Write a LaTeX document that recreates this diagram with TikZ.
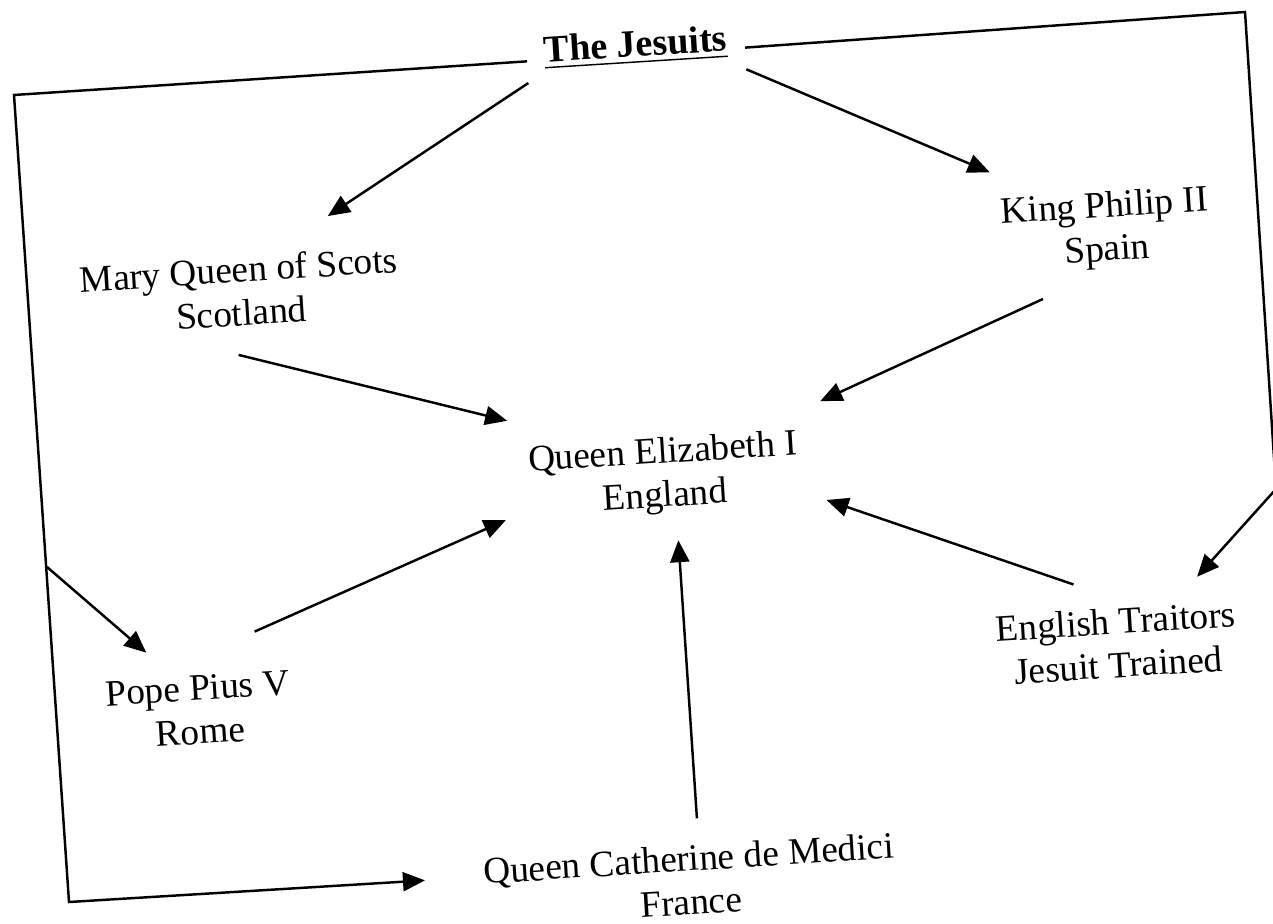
\documentclass[tikz,border=0pt]{standalone}
\usepackage{fontspec}
\setmainfont{Liberation Serif}
\usetikzlibrary{arrows.meta}

\begin{document}
\begin{tikzpicture}[x=0.1mm, y=-0.1mm, every node/.style={
    align=center, rotate=3.6, inner sep=2.5mm,
    font=\fontsize{10.6}{12.4}\selectfont},
    -{Triangle[length=2.2mm,width=1.9mm]}, line width=0.7pt]
    \useasboundingbox (0,0) rectangle (1273,924);

    \node[inner sep=0pt, minimum width=21.6mm, text height=2.25mm,
      text depth=1.85mm] (jesuits) at (636,54.5)
      {\resizebox{18.3mm}{!}{\underline{\bfseries The Jesuits}}};
    \node (mary) at (240,291) {Mary Queen of Scots\\Scotland};
    \node (philip) at (1106,230) {King Philip II\\Spain};
    \node (elizabeth) at (664,476) {Queen Elizabeth I\\England};
    \node (pope) at (199,710) {Pope Pius V\\Rome};
    \node (traitors) at (1117,643) {English Traitors\\Jesuit Trained};
    \node (catherine) at (690,880) {Queen Catherine de Medici\\France};

    \coordinate (tl) at (14,95);
    \coordinate (tr) at (1245,12);
    \coordinate (rc) at (1276,489);
    \coordinate (bl) at (69,902);
    \coordinate (lp) at (47,567);

    % frame round the picture
    \draw[shorten >=3.3mm] (jesuits.west) -- (tl) -- (bl) -- (catherine.176);
    \draw (jesuits.east) -- (tr) -- (rc) -- (traitors.36.6);
    \draw (lp) -- (pope.129.2);

    \draw[shorten >=1.6mm] (jesuits.south west) -- (mary.38.2);
    \draw (jesuits.south east) -- (philip.150.9);
    \draw[shorten <=0.8mm] (mary.258.7) -- (elizabeth.157.9);
    \draw (philip.224) -- (elizabeth.22.4);
    \draw[shorten <=4.1mm] (pope.70.4) -- (elizabeth.192);
    \draw (catherine.80.6) -- (elizabeth.279.1);
    \draw (traitors.123.6) -- (elizabeth.348.5);
\end{tikzpicture}
\end{document}
